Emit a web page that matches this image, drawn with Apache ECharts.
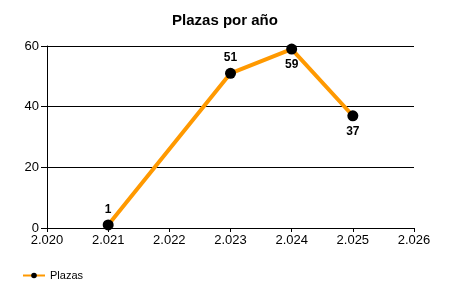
<!DOCTYPE html>
<html><head><meta charset="utf-8">
<script src="https://cdn.jsdelivr.net/npm/echarts@6/dist/echarts.min.js"></script>
<style>html,body{margin:0;padding:0;background:#fff}#c{width:450px;height:300px}</style>
</head><body><div id="c"></div>
<script>
const title = "Plazas por año";
const seriesName = "Plazas";
const years = [2021, 2023, 2024, 2025];
const values = [1, 51, 59, 37];
const labelPos = ["top", "top", "bottom", "bottom"];
const xMin = 2020, xMax = 2026, yMin = 0, yMax = 60;

const chart = echarts.init(document.getElementById('c'));
const F = 'Liberation Sans, Arial, sans-serif';
chart.setOption({
  animation: false,
  title: {text: title, left: 'center', top: 8, textStyle: {fontFamily: F, fontSize: 15, fontWeight: 'bold', color: '#000'}},
  grid: {left: 47, right: 36, top: 46, bottom: 72, containLabel: false},
  xAxis: {type: 'value', min: xMin, max: xMax, interval: 1,
    axisLine: {lineStyle: {color: '#000', width: 1}},
    axisTick: {length: 4, lineStyle: {color: '#000'}},
    splitLine: {show: false},
    axisLabel: {fontFamily: F, fontSize: 13, color: '#000', margin: 6,
      formatter: v => String(v).charAt(0) + '.' + String(v).slice(1)}},
  yAxis: {type: 'value', min: yMin, max: yMax, interval: 20,
    axisLine: {show: true, lineStyle: {color: '#000', width: 1}},
    axisTick: {show: true, length: 6, lineStyle: {color: '#000'}},
    splitLine: {show: true, lineStyle: {color: '#000', width: 1}},
    axisLabel: {fontFamily: F, fontSize: 13, color: '#000', margin: 8}},
  legend: {left: 17, bottom: 14, itemWidth: 22, itemHeight: 7, itemGap: 4,
    textStyle: {fontFamily: F, fontSize: 11, color: '#000'},
    data: [{name: seriesName}]},
  series: [{
    name: seriesName, type: 'line',
    data: years.map((y, i) => ({value: [y, values[i]], label: {position: labelPos[i]}})),
    symbol: 'circle', symbolSize: 11,
    lineStyle: {color: '#FF9900', width: 4},
    itemStyle: {color: '#000'},
    label: {show: true, fontFamily: F, fontSize: 12, fontWeight: 'bold', color: '#000', distance: 4}
  }]
});
</script></body></html>
